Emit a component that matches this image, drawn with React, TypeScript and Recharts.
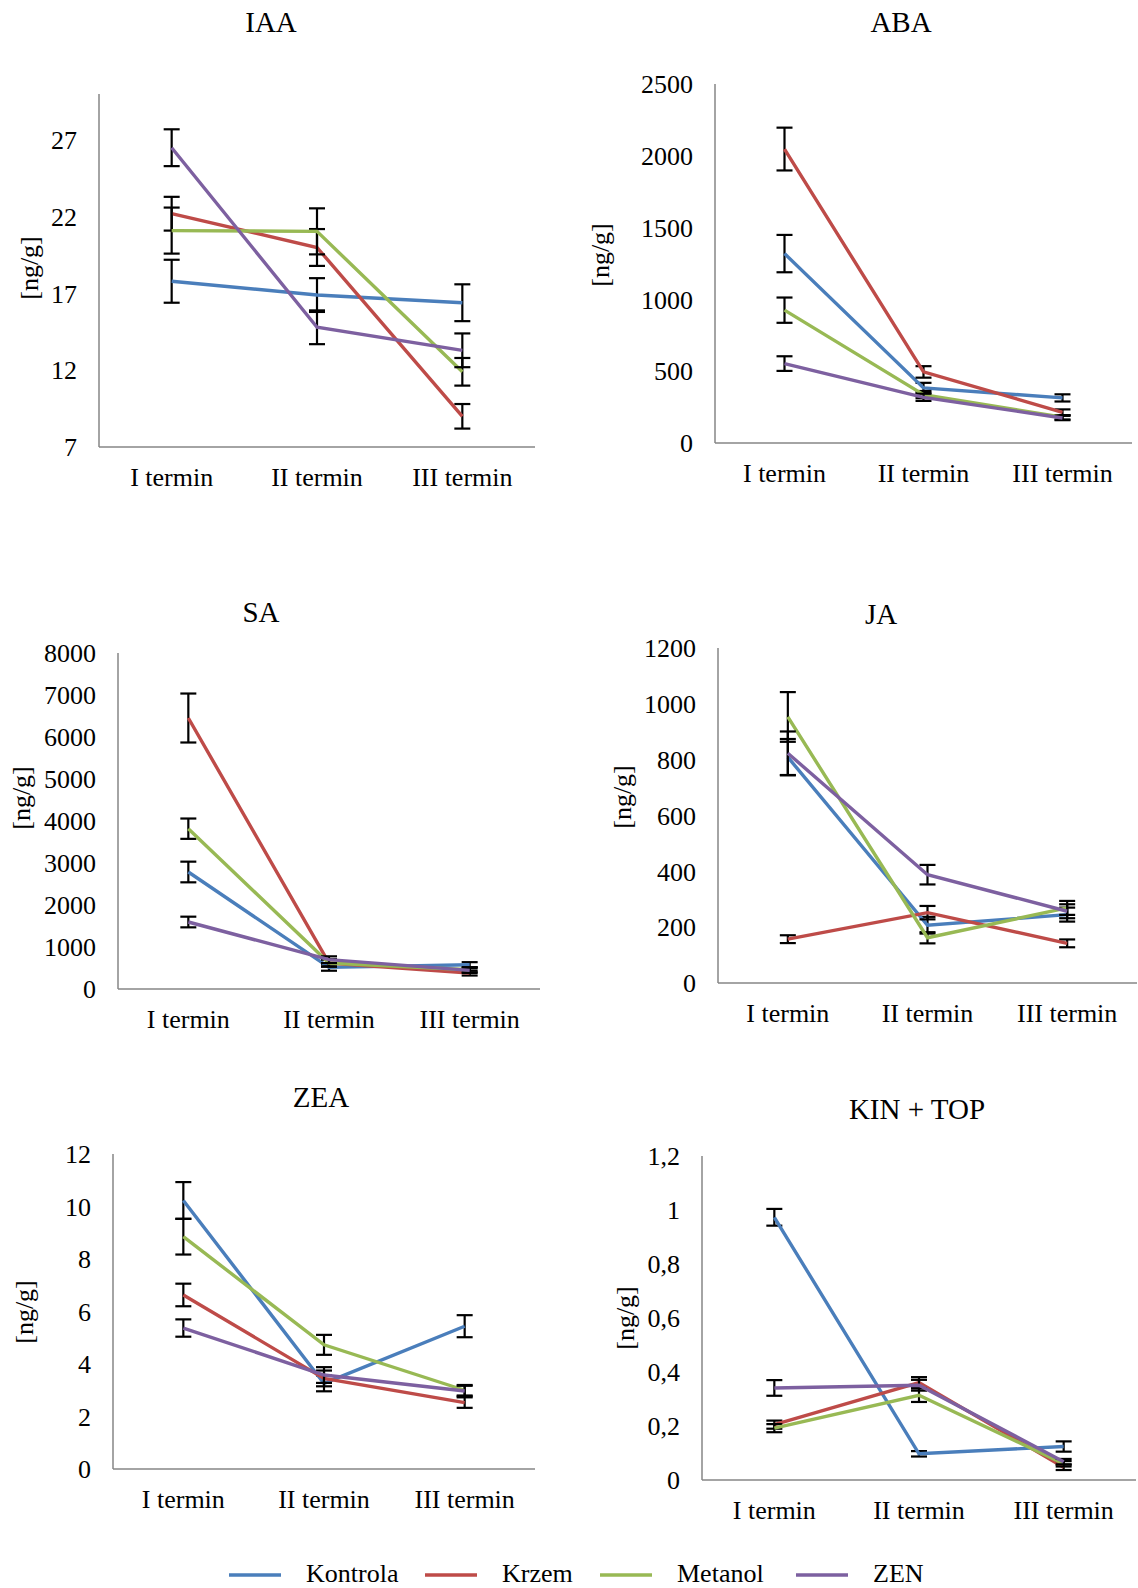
import React from "react";
import { LineChart, Line, XAxis, YAxis, ErrorBar } from "recharts";

const FONT = '"Liberation Serif", "Times New Roman", serif';

const TERMS = ["I termin", "II termin", "III termin"];

const SERIES = [
  { key: "kontrola", name: "Kontrola", color: "#4A7EBB" },
  { key: "krzem", name: "Krzem", color: "#BE4B48" },
  { key: "metanol", name: "Metanol", color: "#98B954" },
  { key: "zen", name: "ZEN", color: "#7D60A0" },
];

// IAA
const iaaKontrola = [17.8, 16.9, 16.4];
const iaaKrzem = [22.2, 20.0, 9.0];
const iaaMetanol = [21.1, 21.05, 11.9];
const iaaZen = [26.5, 14.8, 13.3];
const iaaErr = [
  [1.4, 1.1, 1.2],
  [1.1, 1.2, 0.8],
  [1.5, 1.5, 0.9],
  [1.2, 1.1, 1.1],
];

// ABA
const abaKontrola = [1319, 384, 314];
const abaKrzem = [2047, 495, 214];
const abaMetanol = [925, 337, 179];
const abaZen = [553, 318, 174];
const abaErr = [
  [130, 35, 25],
  [149, 40, 20],
  [88, 25, 15],
  [51, 25, 15],
];

// SA
const saKontrola = [2786, 515, 579];
const saKrzem = [6452, 619, 381];
const saMetanol = [3817, 620, 460];
const saZen = [1595, 698, 443];
const saErr = [
  [246, 80, 60],
  [583, 90, 60],
  [242, 80, 60],
  [127, 80, 60],
];

// JA
const jaKontrola = [809, 207, 245];
const jaKrzem = [157, 252, 142];
const jaMetanol = [953, 162, 269];
const jaZen = [823, 388, 257];
const jaErr = [
  [65, 30, 25],
  [14, 24, 14],
  [89, 20, 25],
  [78, 35, 25],
];

// ZEA
const zeaKontrola = [10.23, 3.26, 5.44];
const zeaKrzem = [6.63, 3.45, 2.53];
const zeaMetanol = [8.85, 4.73, 3.0];
const zeaZen = [5.37, 3.58, 2.97];
const zeaErr = [
  [0.7, 0.3, 0.42],
  [0.43, 0.3, 0.2],
  [0.68, 0.38, 0.2],
  [0.33, 0.3, 0.2],
];

// KIN + TOP
const kinKontrola = [0.973, 0.097, 0.124];
const kinKrzem = [0.205, 0.361, 0.047];
const kinMetanol = [0.192, 0.314, 0.06];
const kinZen = [0.341, 0.351, 0.068];
const kinErr = [
  [0.031, 0.01, 0.019],
  [0.015, 0.02, 0.01],
  [0.015, 0.025, 0.01],
  [0.029, 0.02, 0.01],
];

const iaaTicks = [7, 12, 17, 22, 27];
const abaTicks = [0, 500, 1000, 1500, 2000, 2500];
const saTicks = [0, 1000, 2000, 3000, 4000, 5000, 6000, 7000, 8000];
const jaTicks = [0, 200, 400, 600, 800, 1000, 1200];
const zeaTicks = [0, 2, 4, 6, 8, 10, 12];
const kinTicks = [0, 0.2, 0.4, 0.6, 0.8, 1, 1.2];

const AXIS = "#868686";
const YW = 90;
const MT = 20;
const XH = 60;

type Rect = { left: number; right: number; top: number; bottom: number };

type PanelProps = {
  title: string;
  titleAt: [number, number];
  labelAt: [number, number];
  rect: Rect;
  domain: [number, number];
  ticks: number[];
  values: number[][];
  errors: number[][];
  decimalComma?: boolean;
};

function buildRows(values: number[][], errors: number[][]) {
  return TERMS.map((term, i) => {
    const row: Record<string, string | number> = { term };
    SERIES.forEach((s, j) => {
      row[s.key] = values[j][i];
      row[s.key + "Err"] = errors[j][i];
    });
    return row;
  });
}

function Panel({
  title,
  titleAt,
  labelAt,
  rect,
  domain,
  ticks,
  values,
  errors,
  decimalComma,
}: PanelProps) {
  const plotW = rect.right - rect.left;
  const plotH = rect.bottom - rect.top;
  const rows = buildRows(values, errors);
  const tickStyle = { fill: "#000", fontSize: 26, fontFamily: FONT };

  return (
    <>
      <div
        style={{
          position: "absolute",
          left: titleAt[0],
          top: titleAt[1] - 14.5,
          transform: "translateX(-50%)",
          fontFamily: FONT,
          fontSize: 29,
          lineHeight: "29px",
          whiteSpace: "nowrap",
        }}
      >
        {title}
      </div>
      <div
        style={{
          position: "absolute",
          left: labelAt[0],
          top: labelAt[1],
          transform: "translate(-50%, -50%) rotate(-90deg)",
          fontFamily: FONT,
          fontSize: 26,
          lineHeight: "26px",
          whiteSpace: "nowrap",
        }}
      >
        [ng/g]
      </div>
      <LineChart
        width={YW + plotW}
        height={MT + plotH + XH}
        data={rows}
        margin={{ top: MT, right: 0, left: 0, bottom: 0 }}
        style={{ position: "absolute", left: rect.left - YW, top: rect.top - MT }}
      >
        <XAxis
          dataKey="term"
          height={XH}
          interval={0}
          padding={{ left: plotW / 6, right: plotW / 6 }}
          axisLine={{ stroke: AXIS, strokeWidth: 1.5 }}
          tickLine={false}
          tickSize={0}
          tickMargin={21}
          tick={tickStyle}
        />
        <YAxis
          type="number"
          width={YW}
          domain={domain}
          ticks={ticks}
          interval={0}
          allowDataOverflow
          axisLine={{ stroke: AXIS, strokeWidth: 1.5 }}
          tickLine={false}
          tickSize={0}
          tickMargin={22}
          tick={tickStyle}
          tickFormatter={(v: number) =>
            decimalComma ? String(v).replace(".", ",") : String(v)
          }
        />
        {SERIES.map((s) => (
          <Line
            key={s.key}
            dataKey={s.key}
            stroke={s.color}
            strokeWidth={3.4}
            dot={false}
            isAnimationActive={false}
          >
            <ErrorBar
              dataKey={s.key + "Err"}
              direction="y"
              width={8}
              stroke="#000"
              strokeWidth={2.2}
              isAnimationActive={false}
            />
          </Line>
        ))}
      </LineChart>
    </>
  );
}

const LEGEND_X = [229, 425, 600, 796];

function Legend() {
  return (
    <svg
      width={1138}
      height={33}
      style={{ position: "absolute", left: 0, top: 1555 }}
    >
      {SERIES.map((s, i) => (
        <g key={s.key}>
          <line
            x1={LEGEND_X[i]}
            x2={LEGEND_X[i] + 52}
            y1={20}
            y2={20}
            stroke={s.color}
            strokeWidth={3.4}
          />
          <text
            x={LEGEND_X[i] + 77}
            y={27}
            fontFamily={FONT}
            fontSize={26}
            fill="#000"
          >
            {s.name}
          </text>
        </g>
      ))}
    </svg>
  );
}

export default function App() {
  return (
    <div
      style={{
        position: "absolute",
        left: 0,
        top: 0,
        width: 1138,
        height: 1588,
        background: "#fff",
        overflow: "hidden",
      }}
    >
      <Panel
        title="IAA"
        titleAt={[271, 22]}
        labelAt={[30, 268]}
        rect={{ left: 99, right: 535, top: 94, bottom: 447 }}
        domain={[7, 30]}
        ticks={iaaTicks}
        values={[iaaKontrola, iaaKrzem, iaaMetanol, iaaZen]}
        errors={iaaErr}
      />
      <Panel
        title="ABA"
        titleAt={[901, 22]}
        labelAt={[601, 255]}
        rect={{ left: 715, right: 1132, top: 84, bottom: 443 }}
        domain={[0, 2500]}
        ticks={abaTicks}
        values={[abaKontrola, abaKrzem, abaMetanol, abaZen]}
        errors={abaErr}
      />
      <Panel
        title="SA"
        titleAt={[261, 612]}
        labelAt={[22, 798]}
        rect={{ left: 118, right: 540, top: 653, bottom: 989 }}
        domain={[0, 8000]}
        ticks={saTicks}
        values={[saKontrola, saKrzem, saMetanol, saZen]}
        errors={saErr}
      />
      <Panel
        title="JA"
        titleAt={[881, 614]}
        labelAt={[623, 797]}
        rect={{ left: 718, right: 1137, top: 648, bottom: 983 }}
        domain={[0, 1200]}
        ticks={jaTicks}
        values={[jaKontrola, jaKrzem, jaMetanol, jaZen]}
        errors={jaErr}
      />
      <Panel
        title="ZEA"
        titleAt={[321, 1097]}
        labelAt={[25, 1312]}
        rect={{ left: 113, right: 535, top: 1154, bottom: 1469 }}
        domain={[0, 12]}
        ticks={zeaTicks}
        values={[zeaKontrola, zeaKrzem, zeaMetanol, zeaZen]}
        errors={zeaErr}
      />
      <Panel
        title="KIN + TOP"
        titleAt={[917, 1109]}
        labelAt={[626, 1318]}
        rect={{ left: 702, right: 1136, top: 1156, bottom: 1480 }}
        domain={[0, 1.2]}
        ticks={kinTicks}
        values={[kinKontrola, kinKrzem, kinMetanol, kinZen]}
        errors={kinErr}
        decimalComma
      />
      <Legend />
    </div>
  );
}
